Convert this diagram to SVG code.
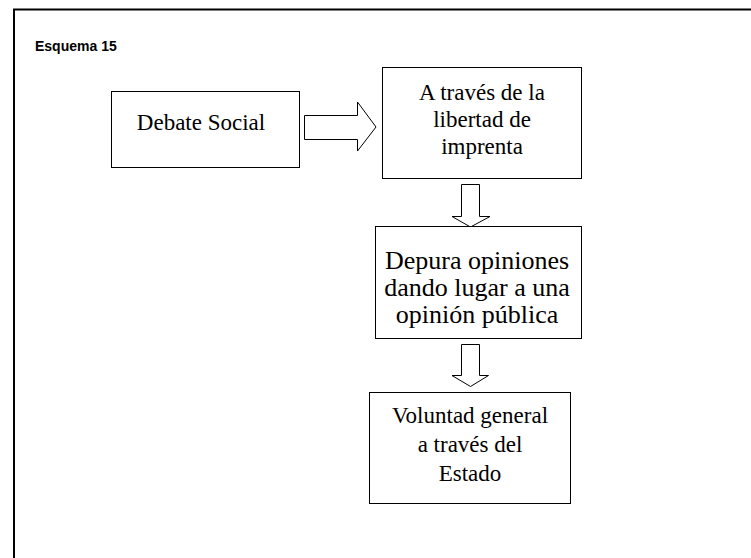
<svg xmlns="http://www.w3.org/2000/svg" width="751" height="558" viewBox="0 0 751 558">
  <style>
    .box { fill: #fff; stroke: #000; stroke-width: 1; }
    .arrow { fill: #fff; stroke: #000; stroke-width: 1; stroke-linejoin: miter; }
    .label { font-family: "Liberation Serif", "Times New Roman", serif; font-size: 23px; fill: #000; text-anchor: middle; }
    .label.big { font-size: 26px; }
    .title { font-family: "Liberation Sans", Arial, sans-serif; font-size: 14px; font-weight: bold; fill: #000; }
  </style>
  <rect width="751" height="558" fill="#fff"/>
  <!-- page frame: top and left rules -->
  <path d="M14 558 V9.5 H751" fill="none" stroke="#000" stroke-width="2"/>
  <text class="title" x="35" y="51">Esquema 15</text>

  <g id="connectors">
    <path class="arrow" d="M304.5 115.5 H357.5 V102 L376 127 L357.5 151 V139.5 H304.5 Z"/>
    <path class="arrow" d="M461.5 184.5 H479.5 V216.5 H490 L470.5 227 L452 216.5 H461.5 Z"/>
    <path class="arrow" d="M461.5 344.5 H479.5 V375.5 H488.5 L470.5 386.5 L452 375.5 H461.5 Z"/>
  </g>

  <g id="debate-social">
    <rect class="box" x="111.5" y="91.5" width="188" height="76"/>
    <text class="label" x="201" y="130">Debate Social</text>
  </g>

  <g id="libertad-imprenta">
    <rect class="box" x="382.5" y="67.5" width="199" height="111"/>
    <text class="label" x="482" y="100">A través de la</text>
    <text class="label" x="482" y="127">libertad de</text>
    <text class="label" x="482" y="154">imprenta</text>
  </g>

  <g id="opinion-publica">
    <rect class="box" x="375.5" y="226.5" width="206" height="112"/>
    <text class="label big" x="477" y="269">Depura opiniones</text>
    <text class="label big" x="477" y="296">dando lugar a una</text>
    <text class="label big" x="477" y="323">opinión pública</text>
  </g>

  <g id="voluntad-general">
    <rect class="box" x="369.5" y="392.5" width="201" height="111"/>
    <text class="label" x="470" y="423">Voluntad general</text>
    <text class="label" x="470" y="452">a través del</text>
    <text class="label" x="470" y="481">Estado</text>
  </g>
</svg>
